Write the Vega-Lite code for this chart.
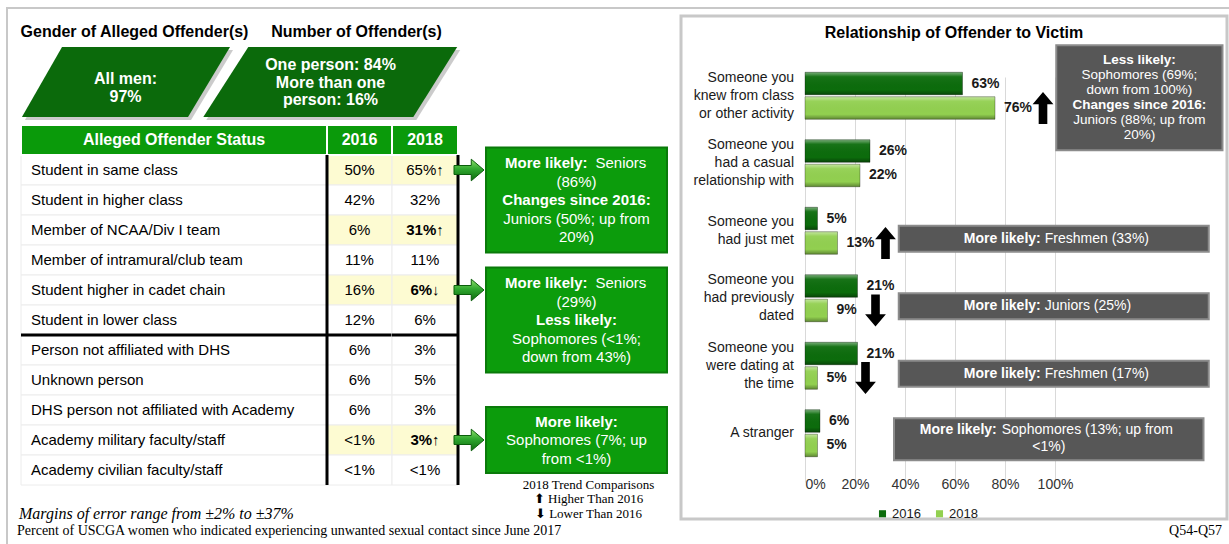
{
"$schema": "https://vega.github.io/schema/vega-lite/v6.json",
"width": 1229, "height": 544, "padding": 0,
"autosize": {"type": "none"},
"background": "#ffffff",
"config": {"view": {"stroke": null}, "font": "Liberation Sans", "text": {"font": "Liberation Sans"}},
"datasets": {
 "slide": [{"frame": "slide"}],
 "offenders": [
  {"topic": "Gender of Alleged Offender(s)", "share": "All men:|97%"},
  {"topic": "Number of Offender(s)", "share": "One person: 84%|More than one|person: 16%"}
 ],
 "columns": [{"col": "Alleged Offender Status"}, {"col": "2016"}, {"col": "2018"}],
 "table": [
  {"status": "Student in same class", "y2016": "50%", "y2018": "65%↑", "flagged": true, "sig": false},
  {"status": "Student in higher class", "y2016": "42%", "y2018": "32%", "flagged": false, "sig": false},
  {"status": "Member of NCAA/Div I team", "y2016": "6%", "y2018": "31%↑", "flagged": true, "sig": true},
  {"status": "Member of intramural/club team", "y2016": "11%", "y2018": "11%", "flagged": false, "sig": false},
  {"status": "Student higher in cadet chain", "y2016": "16%", "y2018": "6%↓", "flagged": true, "sig": true},
  {"status": "Student in lower class", "y2016": "12%", "y2018": "6%", "flagged": false, "sig": false},
  {"status": "Person not affiliated with DHS", "y2016": "6%", "y2018": "3%", "flagged": false, "sig": false},
  {"status": "Unknown person", "y2016": "6%", "y2018": "5%", "flagged": false, "sig": false},
  {"status": "DHS person not affiliated with Academy", "y2016": "6%", "y2018": "3%", "flagged": false, "sig": false},
  {"status": "Academy military faculty/staff", "y2016": "<1%", "y2018": "3%↑", "flagged": true, "sig": true},
  {"status": "Academy civilian faculty/staff", "y2016": "<1%", "y2018": "<1%", "flagged": false, "sig": false}
 ],
 "callouts": [
  {"anchor": "Student in same class", "center": "Student in higher class", "lines": 5, "lead": "More likely:", "leadText": "Seniors", "note": "(86%)", "heading0": "", "heading": "Changes since 2016:", "detail0": "", "detail": "Juniors (50%; up from|20%)"},
  {"anchor": "Student higher in cadet chain", "center": "Student in lower class", "lines": 5, "lead": "More likely:", "leadText": "Seniors", "note": "(29%)", "heading0": "", "heading": "Less likely:", "detail0": "", "detail": "Sophomores (<1%;|down from 43%)"},
  {"anchor": "Academy military faculty/staff", "center": "Academy military faculty/staff", "lines": 3, "lead": "", "leadText": "", "note": "", "heading0": "More likely:", "heading": "", "detail0": "Sophomores (7%; up|from <1%)", "detail": ""}
 ],
 "panels": [{"title": "Relationship of Offender to Victim"}],
 "relationship": [
  {"category": "Someone you knew from class or other activity", "year": "2016", "pct": 0.63},
  {"category": "Someone you knew from class or other activity", "year": "2018", "pct": 0.76, "trend": "up"},
  {"category": "Someone you had a casual relationship with", "year": "2016", "pct": 0.26},
  {"category": "Someone you had a casual relationship with", "year": "2018", "pct": 0.22},
  {"category": "Someone you had just met", "year": "2016", "pct": 0.05},
  {"category": "Someone you had just met", "year": "2018", "pct": 0.13, "trend": "up"},
  {"category": "Someone you had previously dated", "year": "2016", "pct": 0.21},
  {"category": "Someone you had previously dated", "year": "2018", "pct": 0.09, "trend": "down"},
  {"category": "Someone you were dating at the time", "year": "2016", "pct": 0.21},
  {"category": "Someone you were dating at the time", "year": "2018", "pct": 0.05, "trend": "down"},
  {"category": "A stranger", "year": "2016", "pct": 0.06},
  {"category": "A stranger", "year": "2018", "pct": 0.05}
 ],
 "notes": [
  {"category": "Someone you knew from class or other activity", "label": "Someone you|knew from class|or other activity", "lead": "", "detail": "", "more": "", "title": "Less likely:", "body": "Sophomores (69%;|down from 100%)", "title2": "Changes since 2016:", "body2": "Juniors (88%; up from|20%)"},
  {"category": "Someone you had a casual relationship with", "label": "Someone you|had a casual|relationship with", "lead": "", "detail": "", "more": "", "title": "", "body": "", "title2": "", "body2": ""},
  {"category": "Someone you had just met", "label": "Someone you|had just met", "lead": "More likely:", "detail": "Freshmen (33%)", "more": "", "title": "", "body": "", "title2": "", "body2": ""},
  {"category": "Someone you had previously dated", "label": "Someone you|had previously|dated", "lead": "More likely:", "detail": "Juniors (25%)", "more": "", "title": "", "body": "", "title2": "", "body2": ""},
  {"category": "Someone you were dating at the time", "label": "Someone you|were dating at|the time", "lead": "More likely:", "detail": "Freshmen (17%)", "more": "", "title": "", "body": "", "title2": "", "body2": ""},
  {"category": "A stranger", "label": "A stranger", "lead": "More likely:", "detail": "Sophomores (13%; up from", "more": "<1%)", "title": "", "body": "", "title2": "", "body2": ""}
 ],
 "footnotes": [
  {"margin": "Margins of error range from ±2% to ±37%", "base": "Percent of USCGA women who indicated experiencing unwanted sexual contact since June 2017", "trend": "2018 Trend Comparisons|⬆ Higher Than 2016|⬇ Lower Than 2016", "source": "Q54-Q57"}
 ]
},
"layer": [
 {
  "data": {"name": "slide"},
  "mark": {"type": "rect", "fill": "#ffffff", "fillOpacity": 0, "stroke": "#c8c8c8", "strokeWidth": 2},
  "encoding": {
   "x": {"field": "frame", "type": "nominal", "scale": {"type": "band", "range": [7, 1300], "paddingInner": 0, "paddingOuter": 0}, "axis": null},
   "y": {"field": "frame", "type": "nominal", "scale": {"type": "band", "range": [8, 620], "paddingInner": 0, "paddingOuter": 0}, "axis": null}
  }
 },
 {
  "data": {"name": "offenders"},
  "layer": [
   {"mark": {"type": "point", "filled": true, "size": 57600, "fill": "#8c8c8c", "fillOpacity": 0.45, "strokeWidth": 0, "xOffset": 3, "yOffset": 3},
    "encoding": {
     "x": {"field": "topic", "type": "nominal", "sort": null, "scale": {"type": "band", "domain": ["Gender of Alleged Offender(s)", "Number of Offender(s)"], "range": [23, 433], "paddingInner": 0, "paddingOuter": 0}, "axis": null},
     "y": {"datum": "box", "type": "nominal", "scale": {"type": "band", "domain": ["title", "box"], "range": [7, 107], "paddingInner": 0, "paddingOuter": 0}, "axis": null},
     "shape": {"field": "topic", "type": "nominal", "scale": {"domain": ["Gender of Alleged Offender(s)", "Number of Offender(s)"], "range": ["M-0.529,-0.292L0.871,-0.292L0.521,0.292L-0.863,0.292Z", "M-0.685,-0.292L1.056,-0.292L0.69,0.292L-1.06,0.292Z"]}, "legend": null}
    }},
   {"mark": {"type": "point", "filled": true, "size": 57600, "fill": "#0b6a0b", "fillOpacity": 1, "strokeWidth": 0},
    "encoding": {
     "x": {"field": "topic", "type": "nominal", "sort": null, "axis": null},
     "y": {"datum": "box", "type": "nominal", "axis": null},
     "shape": {"field": "topic", "type": "nominal", "legend": null}
    }},
   {"transform": [{"filter": "datum.topic == 'Gender of Alleged Offender(s)'"}],
    "layer": [
     {"mark": {"type": "text", "color": "#ffffff", "fontWeight": "bold", "fontSize": 16, "lineBreak": "|", "lineHeight": 17.5, "baseline": "middle", "dy": -3},
      "encoding": {"x": {"field": "topic", "type": "nominal", "sort": null, "axis": null}, "y": {"datum": "box", "type": "nominal", "axis": null}, "text": {"field": "share"}}},
     {"mark": {"type": "text", "color": "#000000", "fontWeight": "bold", "fontSize": 16, "dx": 9, "baseline": "middle"},
      "encoding": {"x": {"field": "topic", "type": "nominal", "sort": null, "axis": null}, "y": {"datum": "title", "type": "nominal", "axis": null}, "text": {"field": "topic"}}}
    ]},
   {"transform": [{"filter": "datum.topic == 'Number of Offender(s)'"}],
    "layer": [
     {"mark": {"type": "text", "color": "#ffffff", "fontWeight": "bold", "fontSize": 16, "lineBreak": "|", "lineHeight": 17.5, "baseline": "middle", "dy": -17},
      "encoding": {"x": {"field": "topic", "type": "nominal", "sort": null, "axis": null}, "y": {"datum": "box", "type": "nominal", "axis": null}, "text": {"field": "share"}}},
     {"mark": {"type": "text", "color": "#000000", "fontWeight": "bold", "fontSize": 16, "dx": 26, "baseline": "middle"},
      "encoding": {"x": {"field": "topic", "type": "nominal", "sort": null, "axis": null}, "y": {"datum": "title", "type": "nominal", "axis": null}, "text": {"field": "topic"}}}
    ]}
  ]
 },
 {
  "data": {"name": "table"},
  "resolve": {"scale": {"x": "independent", "shape": "independent"}},
  "layer": [
   {
    "layer": [
     {"mark": {"type": "rect", "fill": "#ffffff", "stroke": "#ececec", "strokeWidth": 1},
      "encoding": {
       "x": {"datum": "Alleged Offender Status", "type": "nominal", "scale": {"type": "band", "domain": ["Alleged Offender Status"], "range": [21, 327], "paddingInner": 0, "paddingOuter": 0}, "axis": null},
       "y": {"field": "status", "type": "nominal", "scale": {"type": "band", "domain": ["header", "Student in same class", "Student in higher class", "Member of NCAA/Div I team", "Member of intramural/club team", "Student higher in cadet chain", "Student in lower class", "Person not affiliated with DHS", "Unknown person", "DHS person not affiliated with Academy", "Academy military faculty/staff", "Academy civilian faculty/staff"], "range": [125, 485], "paddingInner": 0, "paddingOuter": 0}, "axis": null}
      }},
     {"mark": {"type": "text", "align": "left", "baseline": "middle", "dx": 10, "fontSize": 15, "color": "#000000"},
      "encoding": {
       "x": {"datum": "Alleged Offender Status", "type": "nominal", "bandPosition": 0, "axis": null},
       "y": {"field": "status", "type": "nominal", "axis": null},
       "text": {"field": "status"}
      }},
     {"data": {"name": "columns"}, "transform": [{"filter": "datum.col == 'Alleged Offender Status'"}],
      "layer": [
       {"mark": {"type": "rect", "fill": "#0a9a0a", "stroke": "#ffffff", "strokeWidth": 2},
        "encoding": {"x": {"field": "col", "type": "nominal", "axis": null}, "y": {"datum": "header", "type": "nominal", "axis": null}}},
       {"mark": {"type": "text", "color": "#ffffff", "fontWeight": "bold", "fontSize": 16, "baseline": "middle"},
        "encoding": {"x": {"field": "col", "type": "nominal", "axis": null}, "y": {"datum": "header", "type": "nominal", "axis": null}, "text": {"field": "col"}}},
       {"mark": {"type": "rule", "color": "#000000", "strokeWidth": 3},
        "encoding": {"x": {"field": "col", "type": "nominal", "bandPosition": 0, "axis": null}, "x2": {"field": "col", "bandPosition": 1}, "y": {"datum": "Person not affiliated with DHS", "type": "nominal", "bandPosition": 0, "axis": null}}}
      ]}
    ]
   },
   {
    "layer": [
     {"mark": {"type": "rect", "stroke": "#ececec", "strokeWidth": 1},
      "encoding": {
       "x": {"datum": "2016", "type": "nominal", "scale": {"type": "band", "domain": ["2016"], "range": [327, 392], "paddingInner": 0, "paddingOuter": 0}, "axis": null},
       "y": {"field": "status", "type": "nominal", "axis": null},
       "fill": {"condition": {"test": "datum.flagged", "value": "#fdfbd2"}, "value": "#ffffff"}
      }},
     {"mark": {"type": "text", "baseline": "middle", "fontSize": 15, "color": "#000000"},
      "encoding": {
       "x": {"datum": "2016", "type": "nominal", "axis": null},
       "y": {"field": "status", "type": "nominal", "axis": null},
       "text": {"field": "y2016"}
      }},
     {"data": {"name": "columns"}, "transform": [{"filter": "datum.col == '2016'"}],
      "layer": [
       {"mark": {"type": "rect", "fill": "#0a9a0a", "stroke": "#ffffff", "strokeWidth": 2},
        "encoding": {"x": {"field": "col", "type": "nominal", "axis": null}, "y": {"datum": "header", "type": "nominal", "axis": null}}},
       {"mark": {"type": "text", "color": "#ffffff", "fontWeight": "bold", "fontSize": 16, "baseline": "middle"},
        "encoding": {"x": {"field": "col", "type": "nominal", "axis": null}, "y": {"datum": "header", "type": "nominal", "axis": null}, "text": {"field": "col"}}},
       {"mark": {"type": "rule", "color": "#000000", "strokeWidth": 3},
        "encoding": {"x": {"field": "col", "type": "nominal", "bandPosition": 0, "axis": null}, "y": {"datum": "Student in same class", "type": "nominal", "bandPosition": 0, "axis": null}, "y2": {"datum": "Academy civilian faculty/staff", "bandPosition": 1}}},
       {"mark": {"type": "rule", "color": "#000000", "strokeWidth": 3},
        "encoding": {"x": {"field": "col", "type": "nominal", "bandPosition": 0, "axis": null}, "x2": {"field": "col", "bandPosition": 1}, "y": {"datum": "Person not affiliated with DHS", "type": "nominal", "bandPosition": 0, "axis": null}}}
      ]}
    ]
   },
   {
    "layer": [
     {"mark": {"type": "rect", "stroke": "#ececec", "strokeWidth": 1},
      "encoding": {
       "x": {"datum": "2018", "type": "nominal", "scale": {"type": "band", "domain": ["2018"], "range": [392, 458], "paddingInner": 0, "paddingOuter": 0}, "axis": null},
       "y": {"field": "status", "type": "nominal", "axis": null},
       "fill": {"condition": {"test": "datum.flagged", "value": "#fdfbd2"}, "value": "#ffffff"}
      }},
     {"transform": [{"filter": "!datum.sig"}],
      "mark": {"type": "text", "baseline": "middle", "fontSize": 15, "color": "#000000"},
      "encoding": {
       "x": {"datum": "2018", "type": "nominal", "axis": null},
       "y": {"field": "status", "type": "nominal", "axis": null},
       "text": {"field": "y2018"}
      }},
     {"transform": [{"filter": "datum.sig"}],
      "mark": {"type": "text", "baseline": "middle", "fontSize": 15, "fontWeight": "bold", "color": "#000000"},
      "encoding": {
       "x": {"datum": "2018", "type": "nominal", "axis": null},
       "y": {"field": "status", "type": "nominal", "axis": null},
       "text": {"field": "y2018"}
      }},
     {"data": {"name": "columns"}, "transform": [{"filter": "datum.col == '2018'"}],
      "layer": [
       {"mark": {"type": "rect", "fill": "#0a9a0a", "stroke": "#ffffff", "strokeWidth": 2},
        "encoding": {"x": {"field": "col", "type": "nominal", "axis": null}, "y": {"datum": "header", "type": "nominal", "axis": null}}},
       {"mark": {"type": "text", "color": "#ffffff", "fontWeight": "bold", "fontSize": 16, "baseline": "middle"},
        "encoding": {"x": {"field": "col", "type": "nominal", "axis": null}, "y": {"datum": "header", "type": "nominal", "axis": null}, "text": {"field": "col"}}},
       {"mark": {"type": "rule", "color": "#000000", "strokeWidth": 3},
        "encoding": {"x": {"field": "col", "type": "nominal", "bandPosition": 1, "axis": null}, "y": {"datum": "Student in same class", "type": "nominal", "bandPosition": 0, "axis": null}, "y2": {"datum": "Academy civilian faculty/staff", "bandPosition": 1}}},
       {"mark": {"type": "rule", "color": "#000000", "strokeWidth": 3},
        "encoding": {"x": {"field": "col", "type": "nominal", "bandPosition": 0, "axis": null}, "x2": {"field": "col", "bandPosition": 1}, "y": {"datum": "Person not affiliated with DHS", "type": "nominal", "bandPosition": 0, "axis": null}}}
      ]}
    ]
   },
   {
    "data": {"name": "callouts"},
    "layer": [
     {"mark": {"type": "point", "filled": true, "size": 32761, "fill": "#0c9c0c", "fillOpacity": 1, "opacity": 1, "stroke": "#0a7a0a", "strokeWidth": 2},
      "encoding": {
       "x": {"datum": "callout", "type": "nominal", "scale": {"type": "band", "domain": ["callout"], "range": [486, 667], "paddingInner": 0, "paddingOuter": 0}, "axis": null},
       "y": {"field": "center", "type": "nominal", "axis": null},
       "shape": {"field": "lines", "type": "ordinal", "scale": {"domain": [3, 5], "range": ["M-1,-0.365L1,-0.365L1,0.365L-1,0.365Z", "M-1,-0.58L1,-0.58L1,0.58L-1,0.58Z"]}, "legend": null}
      }},
     {"mark": {"type": "point", "shape": "M-1,-0.3L0.15,-0.3L0.15,-0.72L1,0L0.15,0.72L0.15,0.3L-1,0.3Z", "size": 900, "filled": true, "fill": {"gradient": "linear", "x1": 0, "y1": 0, "x2": 0, "y2": 1, "stops": [{"offset": 0, "color": "#8ee06a"}, {"offset": 0.45, "color": "#30a830"}, {"offset": 1, "color": "#0e6a0e"}]}, "stroke": "#0b5e0b", "strokeWidth": 1, "opacity": 1, "xOffset": -17},
      "encoding": {
       "x": {"datum": "callout", "type": "nominal", "bandPosition": 0, "axis": null},
       "y": {"field": "anchor", "type": "nominal", "axis": null}
      }},
     {"mark": {"type": "text", "align": "right", "baseline": "middle", "dy": -37, "dx": 11, "fontSize": 15, "fontWeight": "bold", "color": "#ffffff"},
      "encoding": {"x": {"datum": "callout", "type": "nominal", "axis": null}, "y": {"field": "center", "type": "nominal", "axis": null}, "text": {"field": "lead"}}},
     {"mark": {"type": "text", "align": "left", "baseline": "middle", "dy": -37, "dx": 19, "fontSize": 15, "color": "#ffffff"},
      "encoding": {"x": {"datum": "callout", "type": "nominal", "axis": null}, "y": {"field": "center", "type": "nominal", "axis": null}, "text": {"field": "leadText"}}},
     {"mark": {"type": "text", "align": "center", "baseline": "middle", "dy": -18.5, "fontSize": 15, "color": "#ffffff"},
      "encoding": {"x": {"datum": "callout", "type": "nominal", "axis": null}, "y": {"field": "center", "type": "nominal", "axis": null}, "text": {"field": "note"}}},
     {"mark": {"type": "text", "align": "center", "baseline": "middle", "dy": -18.5, "fontSize": 15, "fontWeight": "bold", "color": "#ffffff"},
      "encoding": {"x": {"datum": "callout", "type": "nominal", "axis": null}, "y": {"field": "center", "type": "nominal", "axis": null}, "text": {"field": "heading0"}}},
     {"mark": {"type": "text", "align": "center", "baseline": "middle", "fontSize": 15, "fontWeight": "bold", "color": "#ffffff"},
      "encoding": {"x": {"datum": "callout", "type": "nominal", "axis": null}, "y": {"field": "center", "type": "nominal", "axis": null}, "text": {"field": "heading"}}},
     {"mark": {"type": "text", "align": "center", "baseline": "middle", "fontSize": 15, "lineBreak": "|", "lineHeight": 18.5, "color": "#ffffff"},
      "encoding": {"x": {"datum": "callout", "type": "nominal", "axis": null}, "y": {"field": "center", "type": "nominal", "axis": null}, "text": {"field": "detail0"}}},
     {"mark": {"type": "text", "align": "center", "baseline": "middle", "dy": 18.5, "fontSize": 15, "lineBreak": "|", "lineHeight": 18.5, "color": "#ffffff"},
      "encoding": {"x": {"datum": "callout", "type": "nominal", "axis": null}, "y": {"field": "center", "type": "nominal", "axis": null}, "text": {"field": "detail"}}}
    ]
   }
  ]
 },
 {
  "resolve": {"scale": {"x": "independent", "y": "independent"}},
  "layer": [
   {
    "data": {"name": "panels"},
    "layer": [
     {"mark": {"type": "rect", "fill": "#ffffff", "fillOpacity": 0, "stroke": "#c8c8c8", "strokeWidth": 3},
      "encoding": {
       "x": {"field": "title", "type": "nominal", "scale": {"type": "band", "range": [681, 1227], "paddingInner": 0, "paddingOuter": 0}, "axis": null},
       "y": {"field": "title", "type": "nominal", "scale": {"type": "band", "range": [16, 519], "paddingInner": 0, "paddingOuter": 0}, "axis": null}
      }},
     {"mark": {"type": "text", "fontWeight": "bold", "fontSize": 16, "baseline": "middle", "dy": 17, "color": "#000000"},
      "encoding": {
       "x": {"field": "title", "type": "nominal", "axis": null},
       "y": {"field": "title", "type": "nominal", "bandPosition": 0, "axis": null},
       "text": {"field": "title"}
      }}
    ]
   },
   {
    "data": {"name": "relationship"},
    "layer": [
     {"mark": {"type": "bar"},
      "encoding": {
       "x": {"field": "pct", "type": "quantitative", "scale": {"domain": [0, 1.68], "range": [805, 1225], "nice": false, "zero": true}, "axis": {"values": [0, 0.2, 0.4, 0.6, 0.8, 1], "format": ".0%", "grid": true, "gridColor": "#d9d9d9", "domain": false, "ticks": false, "labelFontSize": 14, "labelColor": "#333333", "labelPadding": 10, "offset": -77, "title": null, "labelFont": "Liberation Sans"}},
       "y": {"field": "category", "type": "nominal", "scale": {"type": "band", "domain": ["Someone you knew from class or other activity", "Someone you had a casual relationship with", "Someone you had just met", "Someone you had previously dated", "Someone you were dating at the time", "A stranger"], "range": [62, 467], "paddingInner": 0, "paddingOuter": 0}, "axis": null},
       "yOffset": {"field": "year", "type": "nominal", "scale": {"domain": ["2016", "2018"], "paddingInner": 0.08, "paddingOuter": 0.418}},
       "color": {"field": "year", "type": "nominal", "scale": {"domain": ["2016", "2018"], "range": ["#0c6c0c", "#92d050"]}, "legend": {"orient": "none", "legendX": 876, "legendY": 507, "direction": "horizontal", "title": null, "symbolType": "square", "symbolSize": 50, "symbolStrokeWidth": 0, "labelFontSize": 13, "labelFont": "Liberation Sans", "labelColor": "#1a1a1a", "columnPadding": 12, "labelOffset": 3, "padding": 0}}
      }},
     {"mark": {"type": "bar", "fill": {"gradient": "linear", "x1": 0, "y1": 0, "x2": 0, "y2": 1, "stops": [{"offset": 0, "color": "rgba(255,255,255,0.45)"}, {"offset": 0.2, "color": "rgba(255,255,255,0.05)"}, {"offset": 0.78, "color": "rgba(0,0,0,0)"}, {"offset": 1, "color": "rgba(0,0,0,0.35)"}]}, "stroke": "rgba(0,0,0,0.3)", "strokeWidth": 1},
      "encoding": {
       "x": {"field": "pct", "type": "quantitative"},
       "y": {"field": "category", "type": "nominal", "axis": null},
       "yOffset": {"field": "year", "type": "nominal"}
      }},
     {"mark": {"type": "text", "align": "left", "baseline": "middle", "dx": 9, "fontWeight": "bold", "fontSize": 14, "color": "#1a1a1a"},
      "encoding": {
       "x": {"field": "pct", "type": "quantitative"},
       "y": {"field": "category", "type": "nominal", "axis": null},
       "yOffset": {"field": "year", "type": "nominal"},
       "text": {"field": "pct", "format": ".0%"}
      }},
     {"transform": [{"filter": "datum.trend"}],
      "mark": {"type": "point", "filled": true, "size": 1024, "fill": "#000000", "opacity": 1, "strokeWidth": 0, "xOffset": 48},
      "encoding": {
       "x": {"field": "pct", "type": "quantitative"},
       "y": {"field": "category", "type": "nominal", "axis": null},
       "yOffset": {"field": "year", "type": "nominal"},
       "shape": {"field": "trend", "type": "nominal", "scale": {"domain": ["up", "down"], "range": ["M0,-1L0.65,-0.23L0.27,-0.23L0.27,1L-0.27,1L-0.27,-0.23L-0.65,-0.23Z", "M0,1L0.65,0.23L0.27,0.23L0.27,-1L-0.27,-1L-0.27,0.23L-0.65,0.23Z"]}, "legend": null}
      }},
     {
      "data": {"name": "notes"},
      "layer": [
       {"transform": [{"filter": "length(split(datum.label, '|')) == 3"}],
        "mark": {"type": "text", "align": "right", "baseline": "middle", "dx": -11, "dy": -18, "fontSize": 14, "lineBreak": "|", "lineHeight": 18, "color": "#1a1a1a"},
        "encoding": {"x": {"datum": 0, "type": "quantitative"}, "y": {"field": "category", "type": "nominal", "axis": null}, "text": {"field": "label"}}},
       {"transform": [{"filter": "length(split(datum.label, '|')) == 2"}],
        "mark": {"type": "text", "align": "right", "baseline": "middle", "dx": -11, "dy": -9, "fontSize": 14, "lineBreak": "|", "lineHeight": 18, "color": "#1a1a1a"},
        "encoding": {"x": {"datum": 0, "type": "quantitative"}, "y": {"field": "category", "type": "nominal", "axis": null}, "text": {"field": "label"}}},
       {"transform": [{"filter": "length(split(datum.label, '|')) == 1"}],
        "mark": {"type": "text", "align": "right", "baseline": "middle", "dx": -11, "fontSize": 14, "color": "#1a1a1a"},
        "encoding": {"x": {"datum": 0, "type": "quantitative"}, "y": {"field": "category", "type": "nominal", "axis": null}, "text": {"field": "label"}}},
       {"transform": [{"filter": "datum.title != ''"}],
        "layer": [
         {"mark": {"type": "bar", "height": 105, "yOffset": 2, "fill": "#575757", "stroke": "#8c8c8c", "strokeWidth": 2},
          "encoding": {"x": {"datum": 1.005, "type": "quantitative"}, "x2": {"datum": 1.67}, "y": {"field": "category", "type": "nominal", "axis": null}}},
         {"mark": {"type": "text", "align": "center", "baseline": "middle", "yOffset": 2, "dy": -37.5, "fontSize": 13.5, "fontWeight": "bold", "color": "#ffffff"},
          "encoding": {"x": {"datum": 1.3375, "type": "quantitative"}, "y": {"field": "category", "type": "nominal", "axis": null}, "text": {"field": "title"}}},
         {"mark": {"type": "text", "align": "center", "baseline": "middle", "yOffset": 2, "dy": -22.5, "fontSize": 13.5, "lineBreak": "|", "lineHeight": 15, "color": "#ffffff"},
          "encoding": {"x": {"datum": 1.3375, "type": "quantitative"}, "y": {"field": "category", "type": "nominal", "axis": null}, "text": {"field": "body"}}},
         {"mark": {"type": "text", "align": "center", "baseline": "middle", "yOffset": 2, "dy": 7.5, "fontSize": 13.5, "fontWeight": "bold", "color": "#ffffff"},
          "encoding": {"x": {"datum": 1.3375, "type": "quantitative"}, "y": {"field": "category", "type": "nominal", "axis": null}, "text": {"field": "title2"}}},
         {"mark": {"type": "text", "align": "center", "baseline": "middle", "yOffset": 2, "dy": 22.5, "fontSize": 13.5, "lineBreak": "|", "lineHeight": 15, "color": "#ffffff"},
          "encoding": {"x": {"datum": 1.3375, "type": "quantitative"}, "y": {"field": "category", "type": "nominal", "axis": null}, "text": {"field": "body2"}}}
        ]},
       {"transform": [{"filter": "datum.lead != '' && datum.more == ''"}],
        "layer": [
         {"mark": {"type": "bar", "height": 26, "yOffset": 8, "fill": "#575757", "stroke": "#8c8c8c", "strokeWidth": 2},
          "encoding": {"x": {"datum": 0.375, "type": "quantitative"}, "x2": {"datum": 1.615}, "y": {"field": "category", "type": "nominal", "axis": null}}},
         {"mark": {"type": "text", "align": "right", "baseline": "middle", "yOffset": 8, "dx": -13, "fontSize": 14, "fontWeight": "bold", "color": "#ffffff"},
          "encoding": {"x": {"datum": 0.995, "type": "quantitative"}, "y": {"field": "category", "type": "nominal", "axis": null}, "text": {"field": "lead"}}},
         {"mark": {"type": "text", "align": "left", "baseline": "middle", "yOffset": 8, "dx": -9, "fontSize": 14, "color": "#ffffff"},
          "encoding": {"x": {"datum": 0.995, "type": "quantitative"}, "y": {"field": "category", "type": "nominal", "axis": null}, "text": {"field": "detail"}}}
        ]},
       {"transform": [{"filter": "datum.more != ''"}],
        "layer": [
         {"mark": {"type": "bar", "height": 42, "yOffset": 6, "fill": "#575757", "stroke": "#8c8c8c", "strokeWidth": 2},
          "encoding": {"x": {"datum": 0.356, "type": "quantitative"}, "x2": {"datum": 1.594}, "y": {"field": "category", "type": "nominal", "axis": null}}},
         {"mark": {"type": "text", "align": "right", "baseline": "middle", "yOffset": -3.5, "dx": -52, "fontSize": 14, "fontWeight": "bold", "color": "#ffffff"},
          "encoding": {"x": {"datum": 0.975, "type": "quantitative"}, "y": {"field": "category", "type": "nominal", "axis": null}, "text": {"field": "lead"}}},
         {"mark": {"type": "text", "align": "left", "baseline": "middle", "yOffset": -3.5, "dx": -47, "fontSize": 14, "color": "#ffffff"},
          "encoding": {"x": {"datum": 0.975, "type": "quantitative"}, "y": {"field": "category", "type": "nominal", "axis": null}, "text": {"field": "detail"}}},
         {"mark": {"type": "text", "align": "center", "baseline": "middle", "yOffset": 13.5, "fontSize": 14, "color": "#ffffff"},
          "encoding": {"x": {"datum": 0.975, "type": "quantitative"}, "y": {"field": "category", "type": "nominal", "axis": null}, "text": {"field": "more"}}}
        ]}
      ]
     }
    ]
   }
  ]
 },
 {
  "data": {"name": "footnotes"},
  "layer": [
   {"mark": {"type": "text", "align": "left", "baseline": "middle", "dx": 19, "font": "Liberation Serif", "fontStyle": "italic", "fontSize": 16, "color": "#000000"},
    "encoding": {
     "x": {"datum": "notes", "type": "nominal", "bandPosition": 0, "scale": {"type": "band", "domain": ["notes", "trend", "source"], "range": [0, 1229], "paddingInner": 0, "paddingOuter": 0}, "axis": null},
     "y": {"datum": "footer", "type": "nominal", "bandPosition": 0.545, "scale": {"type": "band", "domain": ["footer"], "range": [478, 544], "paddingInner": 0, "paddingOuter": 0}, "axis": null},
     "text": {"field": "margin"}
    }},
   {"mark": {"type": "text", "align": "left", "baseline": "middle", "dx": 17, "font": "Liberation Serif", "fontSize": 14, "color": "#000000"},
    "encoding": {
     "x": {"datum": "notes", "type": "nominal", "bandPosition": 0, "axis": null},
     "y": {"datum": "footer", "type": "nominal", "bandPosition": 0.803, "axis": null},
     "text": {"field": "base"}
    }},
   {"mark": {"type": "text", "align": "center", "baseline": "middle", "dx": -26, "font": "Liberation Serif", "fontSize": 13, "lineBreak": "|", "lineHeight": 14.5, "color": "#000000"},
    "encoding": {
     "x": {"datum": "trend", "type": "nominal", "bandPosition": 0.5, "axis": null},
     "y": {"datum": "footer", "type": "nominal", "bandPosition": 0.106, "axis": null},
     "text": {"field": "trend"}
    }},
   {"mark": {"type": "text", "align": "right", "baseline": "middle", "dx": -7, "font": "Liberation Serif", "fontSize": 14, "color": "#000000"},
    "encoding": {
     "x": {"datum": "source", "type": "nominal", "bandPosition": 1, "axis": null},
     "y": {"datum": "footer", "type": "nominal", "bandPosition": 0.803, "axis": null},
     "text": {"field": "source"}
    }}
  ]
 }
],
"resolve": {"scale": {"x": "independent", "y": "independent", "shape": "independent", "color": "independent"}}
}
